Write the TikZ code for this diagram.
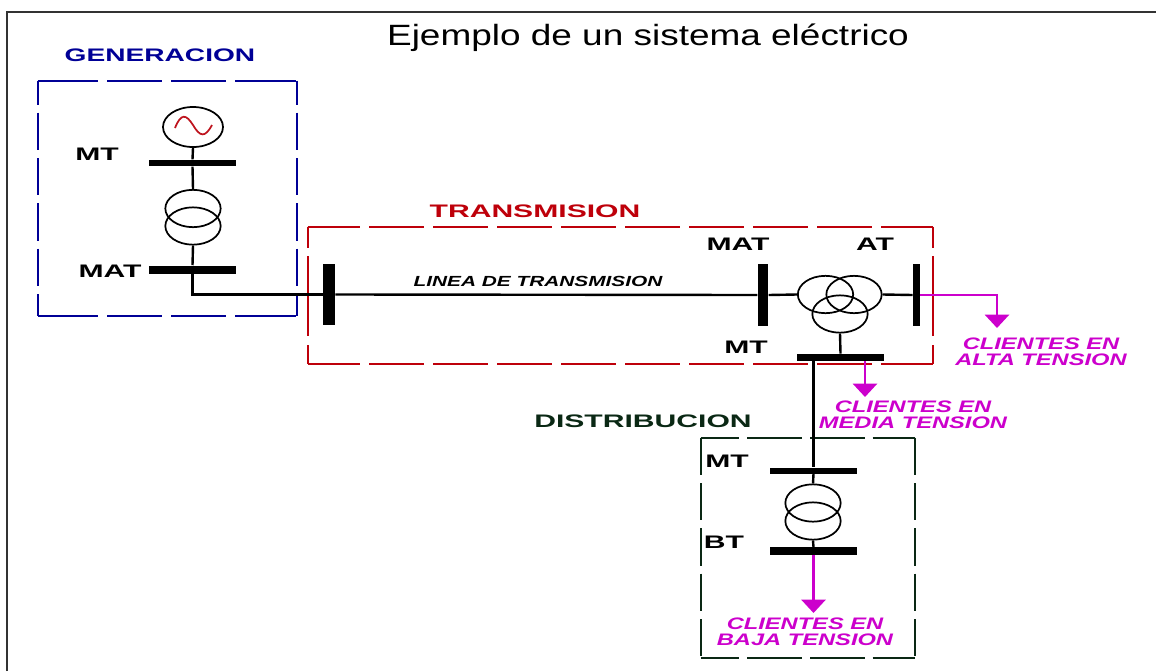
\documentclass[tikz,border=0pt]{standalone}
\usepackage{xcolor}
\usepackage{fontspec}
\usepackage{tikz}
\usetikzlibrary{shapes.geometric, arrows.meta, positioning}
\setmainfont{Liberation Sans}
\newfontfamily\titlefont[FakeStretch=1.26]{Liberation Sans}
\newfontfamily\widefont[FakeStretch=1.55]{Liberation Sans}
\newfontfamily\widerfont[FakeStretch=1.66]{Liberation Sans}
\newfontfamily\slantfont[FakeStretch=1.42]{Liberation Sans}
\definecolor{genblue}{RGB}{0,0,150}
\definecolor{transred}{RGB}{190,0,10}
\definecolor{distgreen}{RGB}{10,40,20}
\definecolor{clientmag}{RGB}{204,0,204}
\definecolor{sinered}{RGB}{190,20,30}

\begin{document}
\begin{tikzpicture}[
  x=0.75pt, y=-0.75pt,
  heading/.style={font=\widerfont\bfseries\fontsize{13.6}{15}\selectfont, inner sep=0pt},
  volt/.style={font=\widerfont\bfseries\fontsize{13.6}{15}\selectfont, inner sep=0pt},
  client/.style={font=\slantfont\bfseries\itshape\fontsize{12.5}{12}\selectfont, text=clientmag, align=center, inner sep=0pt},
  region/.style={rectangle, inner sep=0pt},
  busbar/.style={rectangle, fill=black, inner sep=0pt, minimum width=65pt, minimum height=5pt},
  busstand/.style={rectangle, fill=black, inner sep=0pt, minimum width=8pt, minimum height=46pt},
  winding/.style={ellipse, draw, line width=1.3pt, inner sep=0pt, minimum width=41.5pt, minimum height=28pt},
  wire/.style={line width=1.8pt},
  feeder/.style={line width=2pt, clientmag, -{Triangle[width=18pt,length=10pt]}},
  sidegen/.style={line width=1.6pt, genblue},
  sidetrans/.style={line width=1.6pt, transred},
  sidedist/.style={line width=1.6pt, distgreen}
]
\useasboundingbox (0,0) rectangle (1156,671);

% Frame
\draw[line width=1.6pt, black!80] (7,671) -- (7,12) -- (1156,12);

\node[font=\titlefont\fontsize{22}{24}\selectfont, inner sep=0pt] (title) at (648,38) {Ejemplo de un sistema eléctrico};

% Regions
\node[region, minimum width=194.25pt, minimum height=176.25pt] (generacion) at (167.5,198.5) {};
\node[region, minimum width=468.75pt, minimum height=102.75pt] (transmision) at (620.5,295.5) {};
\node[region, minimum width=160.5pt, minimum height=165pt] (distribucion) at (808,548) {};

\draw[sidegen, dash pattern=on 45pt off 7pt on 41pt off 7pt on 41pt off 7pt on 46pt off 7pt] (generacion.north west) -- (generacion.north east);
\draw[sidegen, dash pattern=on 45pt off 7pt on 41pt off 7pt on 41pt off 7pt on 46pt off 7pt] (generacion.south west) -- (generacion.south east);
\foreach \s in {west, east}
  \draw[sidegen, dash pattern=on 28pt off 6pt, dash phase=10pt] (generacion.north \s) -- (generacion.south \s);

\draw[sidetrans, dash pattern=on 41pt off 7pt, dash phase=2pt] (transmision.north west) -- (transmision.north east);
\draw[sidetrans, dash pattern=on 41pt off 7pt, dash phase=2pt] (transmision.south west) -- (transmision.south east);
\foreach \s in {west, east}
  \draw[sidetrans, dash pattern=on 16pt off 6pt on 60pt off 7pt on 16pt off 6pt] (transmision.north \s) -- (transmision.south \s);

\draw[sidedist, dash pattern=on 41pt off 6pt, dash phase=12pt] (distribucion.north west) -- (distribucion.north east);
\draw[sidedist, dash pattern=on 41pt off 6pt, dash phase=12pt] (distribucion.south west) -- (distribucion.south east);
\foreach \s in {west, east}
  \draw[sidedist, dash pattern=on 28pt off 6pt] (distribucion.north \s) -- (distribucion.south \s);

\node[heading, font=\widefont\bfseries\fontsize{13.6}{15}\selectfont, text=genblue] (genlabel) at (160,55) {GENERACION};
\node[heading, text=transred] (translabel) at (535,211) {TRANSMISION};
\node[heading, text=distgreen] (distlabel) at (643,421) {DISTRIBUCION};

% Generation
\node[ellipse, draw, line width=1.3pt, inner sep=0pt, minimum width=45pt, minimum height=30pt] (generator) at (193,127) {};
\draw[line width=1.3pt, sinered] (175,128) .. controls (181,113) and (186,114) .. (193,125) .. controls (200,137) and (205,138) .. (212,125);
\node[busbar] (busmtgen) at (192.5,163) {};
\node[winding] (genup) at (193,208.5) {};
\node[winding] (genlow) at (193,226) {};
\node[busbar, minimum height=6pt] (busmatgen) at (192.5,269.5) {};
\node[volt] (mtgen) at (97,154) {MT};
\node[volt] (matgen) at (110,271) {MAT};

% Transmission
\node[busstand, minimum width=9pt] (busline) at (329,294.5) {};
\node[busstand] (busmat) at (763,295) {};
\node[busstand, minimum width=5.5pt] (busat) at (916.5,295) {};
\node[winding] (tleft) at (825.5,294.5) {};
\node[winding] (tright) at (854,294.5) {};
\node[winding] (tlow) at (840,314) {};
\node[busbar, minimum height=5.5pt] (busmt) at (840.5,357.5) {};
\node[volt] (matlabel) at (738,244) {MAT};
\node[volt] (atlabel) at (875,244) {AT};
\node[volt] (mtlabel) at (746,347) {MT};
\node[font=\slantfont\bfseries\itshape\fontsize{11}{12}\selectfont, inner sep=0pt] (linelabel) at (538,281) {LINEA DE TRANSMISION};

% Distribution
\node[busbar, minimum height=4.5pt] (busmtdist) at (813.5,470.5) {};
\node[winding] (distup) at (813,503) {};
\node[winding] (distlow) at (813,521) {};
\node[busbar, minimum height=5.5pt] (busbt) at (813.5,551) {};
\node[volt] (mtdist) at (727,461) {MT};
\node[volt] (btdist) at (724,542) {BT};

% Clients
\coordinate (altaend) at (997,328);
\coordinate (mediastart) at (865,361);
\coordinate (mediaend) at (865,397);
\coordinate (bajaend) at (813.5,613);
\node[client] (alta) at (1041,352) {CLIENTES EN\\ALTA TENSION};
\node[client] (media) at (913,414.5) {CLIENTES EN\\MEDIA TENSION};
\node[client] (baja) at (805,631.5) {CLIENTES EN\\BAJA TENSION};

% Lines
\draw[wire] (generator.south) -- (busmtgen.north);
\draw[wire] (busmtgen.south) -- (genup.north);
\draw[wire] (genlow.south) -- (busmatgen.north);
\draw[wire] (busmatgen.south) |- (busline.west);
\draw[wire] (busline.east) -- (busmat.west);
\draw[wire] (busmat.east) -- (tleft.west);
\draw[wire] (tright.east) -- (busat.west);
\draw[wire] (tlow.south) -- (busmt.north);
\draw[wire] (busmtdist.north |- busmt.south) -- (busmtdist.north);
\draw[wire] (busmtdist.south) -- (distup.north);
\draw[wire] (distlow.south) -- (busbt.north);

\draw[feeder] (busat.east) -| (altaend);
\draw[feeder] (mediastart) -- (mediaend);
\draw[feeder] (busbt.south) -- (bajaend);

\end{tikzpicture}
\end{document}
